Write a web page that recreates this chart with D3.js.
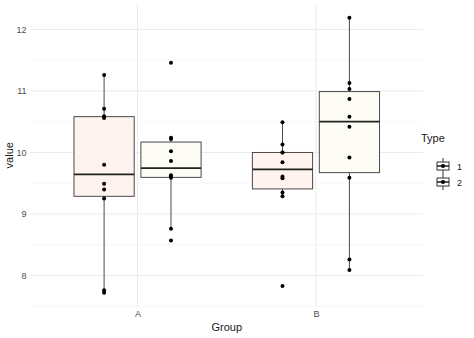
<!DOCTYPE html>
<html><head><meta charset="utf-8">
<script src="https://cdn.jsdelivr.net/npm/d3@7"></script>
<style>body{margin:0;background:#fff}svg{display:block;font-family:"Liberation Sans",Arial,sans-serif}</style>
</head><body>
<script>
const groups = ["A", "B"];
const types = ["1", "2"];
const valuesA1 = [11.26, 10.71, 10.59, 10.56, 9.80, 9.49, 9.40, 9.25, 7.76, 7.72];
const valuesA2 = [11.46, 10.24, 10.22, 10.02, 9.86, 9.63, 9.61, 9.59, 8.76, 8.57];
const valuesB1 = [10.49, 10.13, 10.00, 10.00, 9.84, 9.61, 9.58, 9.35, 9.29, 7.83];
const valuesB2 = [12.19, 11.13, 11.03, 10.87, 10.58, 10.42, 9.92, 9.59, 8.26, 8.09];
const yTicks = [8, 9, 10, 11, 12];
const yMinor = [7.5, 8.5, 9.5, 10.5, 11.5];
const typeFills = ["#fef3ee", "#fdfdf6"];

const series = [
  {group: "A", type: "1", values: valuesA1},
  {group: "A", type: "2", values: valuesA2},
  {group: "B", type: "1", values: valuesB1},
  {group: "B", type: "2", values: valuesB2}
];

const W = 474, H = 338;
const P = {left: 30.5, right: 423, top: 4, bottom: 306.5};
const svg = d3.select("body").append("svg").attr("width", W).attr("height", H);

const all = series.flatMap(s => s.values);
const ext = d3.extent(all);
const pad = (ext[1] - ext[0]) * 0.05;
const y = d3.scaleLinear().domain([ext[0] - pad, ext[1] + pad]).range([P.bottom, P.top]);
const x = d3.scaleLinear().domain([0.4, 2.6]).range([P.left, P.right]);
const gx = g => groups.indexOf(g) + 1;
const dodge = 0.1875, boxW = 0.3375;

// grid
const grid = svg.append("g");
grid.selectAll(".minor").data(yMinor).join("line")
  .attr("x1", P.left).attr("x2", P.right)
  .attr("y1", d => y(d)).attr("y2", d => y(d))
  .attr("stroke", "#f3f3f3").attr("stroke-width", 0.6);
grid.selectAll(".major").data(yTicks).join("line")
  .attr("x1", P.left).attr("x2", P.right)
  .attr("y1", d => y(d)).attr("y2", d => y(d))
  .attr("stroke", "#ebebeb").attr("stroke-width", 1);
grid.selectAll(".vmajor").data(groups).join("line")
  .attr("x1", d => x(gx(d))).attr("x2", d => x(gx(d)))
  .attr("y1", P.top).attr("y2", P.bottom)
  .attr("stroke", "#ebebeb").attr("stroke-width", 1);

// axes
const yAxis = d3.axisLeft(y).tickValues(yTicks).tickSize(0).tickPadding(4).tickFormat(d3.format("d"));
const ya = svg.append("g").attr("transform", `translate(${P.left},0)`).call(yAxis);
ya.select(".domain").remove();
ya.selectAll("text").attr("fill", "#4d4d4d").attr("font-size", 9).attr("font-family", "Liberation Sans, Arial, sans-serif");

const xAxis = d3.axisBottom(x).tickValues([1, 2]).tickSize(0).tickPadding(4).tickFormat(d => groups[d - 1]);
const xa = svg.append("g").attr("transform", `translate(0,${P.bottom})`).call(xAxis);
xa.select(".domain").remove();
xa.selectAll("text").attr("fill", "#4d4d4d").attr("font-size", 9).attr("font-family", "Liberation Sans, Arial, sans-serif");

svg.append("text").attr("x", (P.left + P.right) / 2).attr("y", 331)
  .attr("text-anchor", "middle").attr("font-size", 11).attr("fill", "#1a1a1a").text("Group");
svg.append("text").attr("transform", `translate(13,${(P.top + P.bottom) / 2}) rotate(-90)`)
  .attr("text-anchor", "middle").attr("font-size", 11).attr("fill", "#1a1a1a").text("value");

// boxplots
function stats(vals) {
  const s = vals.slice().sort(d3.ascending);
  const q1 = d3.quantileSorted(s, 0.25), med = d3.quantileSorted(s, 0.5), q3 = d3.quantileSorted(s, 0.75);
  const iqr = q3 - q1;
  const lo = d3.min(s.filter(v => v >= q1 - 1.5 * iqr));
  const hi = d3.max(s.filter(v => v <= q3 + 1.5 * iqr));
  return {q1, med, q3, lo, hi};
}
const boxes = svg.append("g");
series.forEach(s => {
  const st = stats(s.values);
  const cx = gx(s.group) + (s.type === "1" ? -dodge : dodge);
  const g = boxes.append("g");
  const stroke = "#4a4a4a";
  g.append("line").attr("x1", x(cx)).attr("x2", x(cx)).attr("y1", y(st.hi)).attr("y2", y(st.q3))
    .attr("stroke", stroke).attr("stroke-width", 1);
  g.append("line").attr("x1", x(cx)).attr("x2", x(cx)).attr("y1", y(st.q1)).attr("y2", y(st.lo))
    .attr("stroke", stroke).attr("stroke-width", 1);
  g.append("rect").attr("x", x(cx - boxW / 2)).attr("width", x(cx + boxW / 2) - x(cx - boxW / 2))
    .attr("y", y(st.q3)).attr("height", y(st.q1) - y(st.q3))
    .attr("fill", typeFills[types.indexOf(s.type)]).attr("stroke", stroke).attr("stroke-width", 1);
  g.append("line").attr("x1", x(cx - boxW / 2)).attr("x2", x(cx + boxW / 2))
    .attr("y1", y(st.med)).attr("y2", y(st.med)).attr("stroke", "#222").attr("stroke-width", 1.8);
  g.selectAll("circle").data(s.values).join("circle")
    .attr("cx", x(cx)).attr("cy", d => y(d)).attr("r", 2).attr("fill", "#000");
});

// legend
const lg = svg.append("g");
lg.append("text").attr("x", 421).attr("y", 142).attr("font-size", 11).attr("fill", "#1a1a1a").text("Type");
types.forEach((t, i) => {
  const cy = 166 + i * 16, cx = 443;
  lg.append("line").attr("x1", cx).attr("x2", cx).attr("y1", cy - 8).attr("y2", cy + 8)
    .attr("stroke", "#333").attr("stroke-width", 1);
  lg.append("rect").attr("x", cx - 6).attr("y", cy - 4).attr("width", 12).attr("height", 8)
    .attr("fill", "#fff").attr("stroke", "#333").attr("stroke-width", 1);
  lg.append("line").attr("x1", cx - 6).attr("x2", cx + 6).attr("y1", cy).attr("y2", cy)
    .attr("stroke", "#222").attr("stroke-width", 1.5);
  lg.append("circle").attr("cx", cx).attr("cy", cy).attr("r", 2).attr("fill", "#000");
  lg.append("text").attr("x", 457).attr("y", cy + 3.5).attr("font-size", 9).attr("fill", "#1a1a1a").text(t);
});
</script>
</body></html>
